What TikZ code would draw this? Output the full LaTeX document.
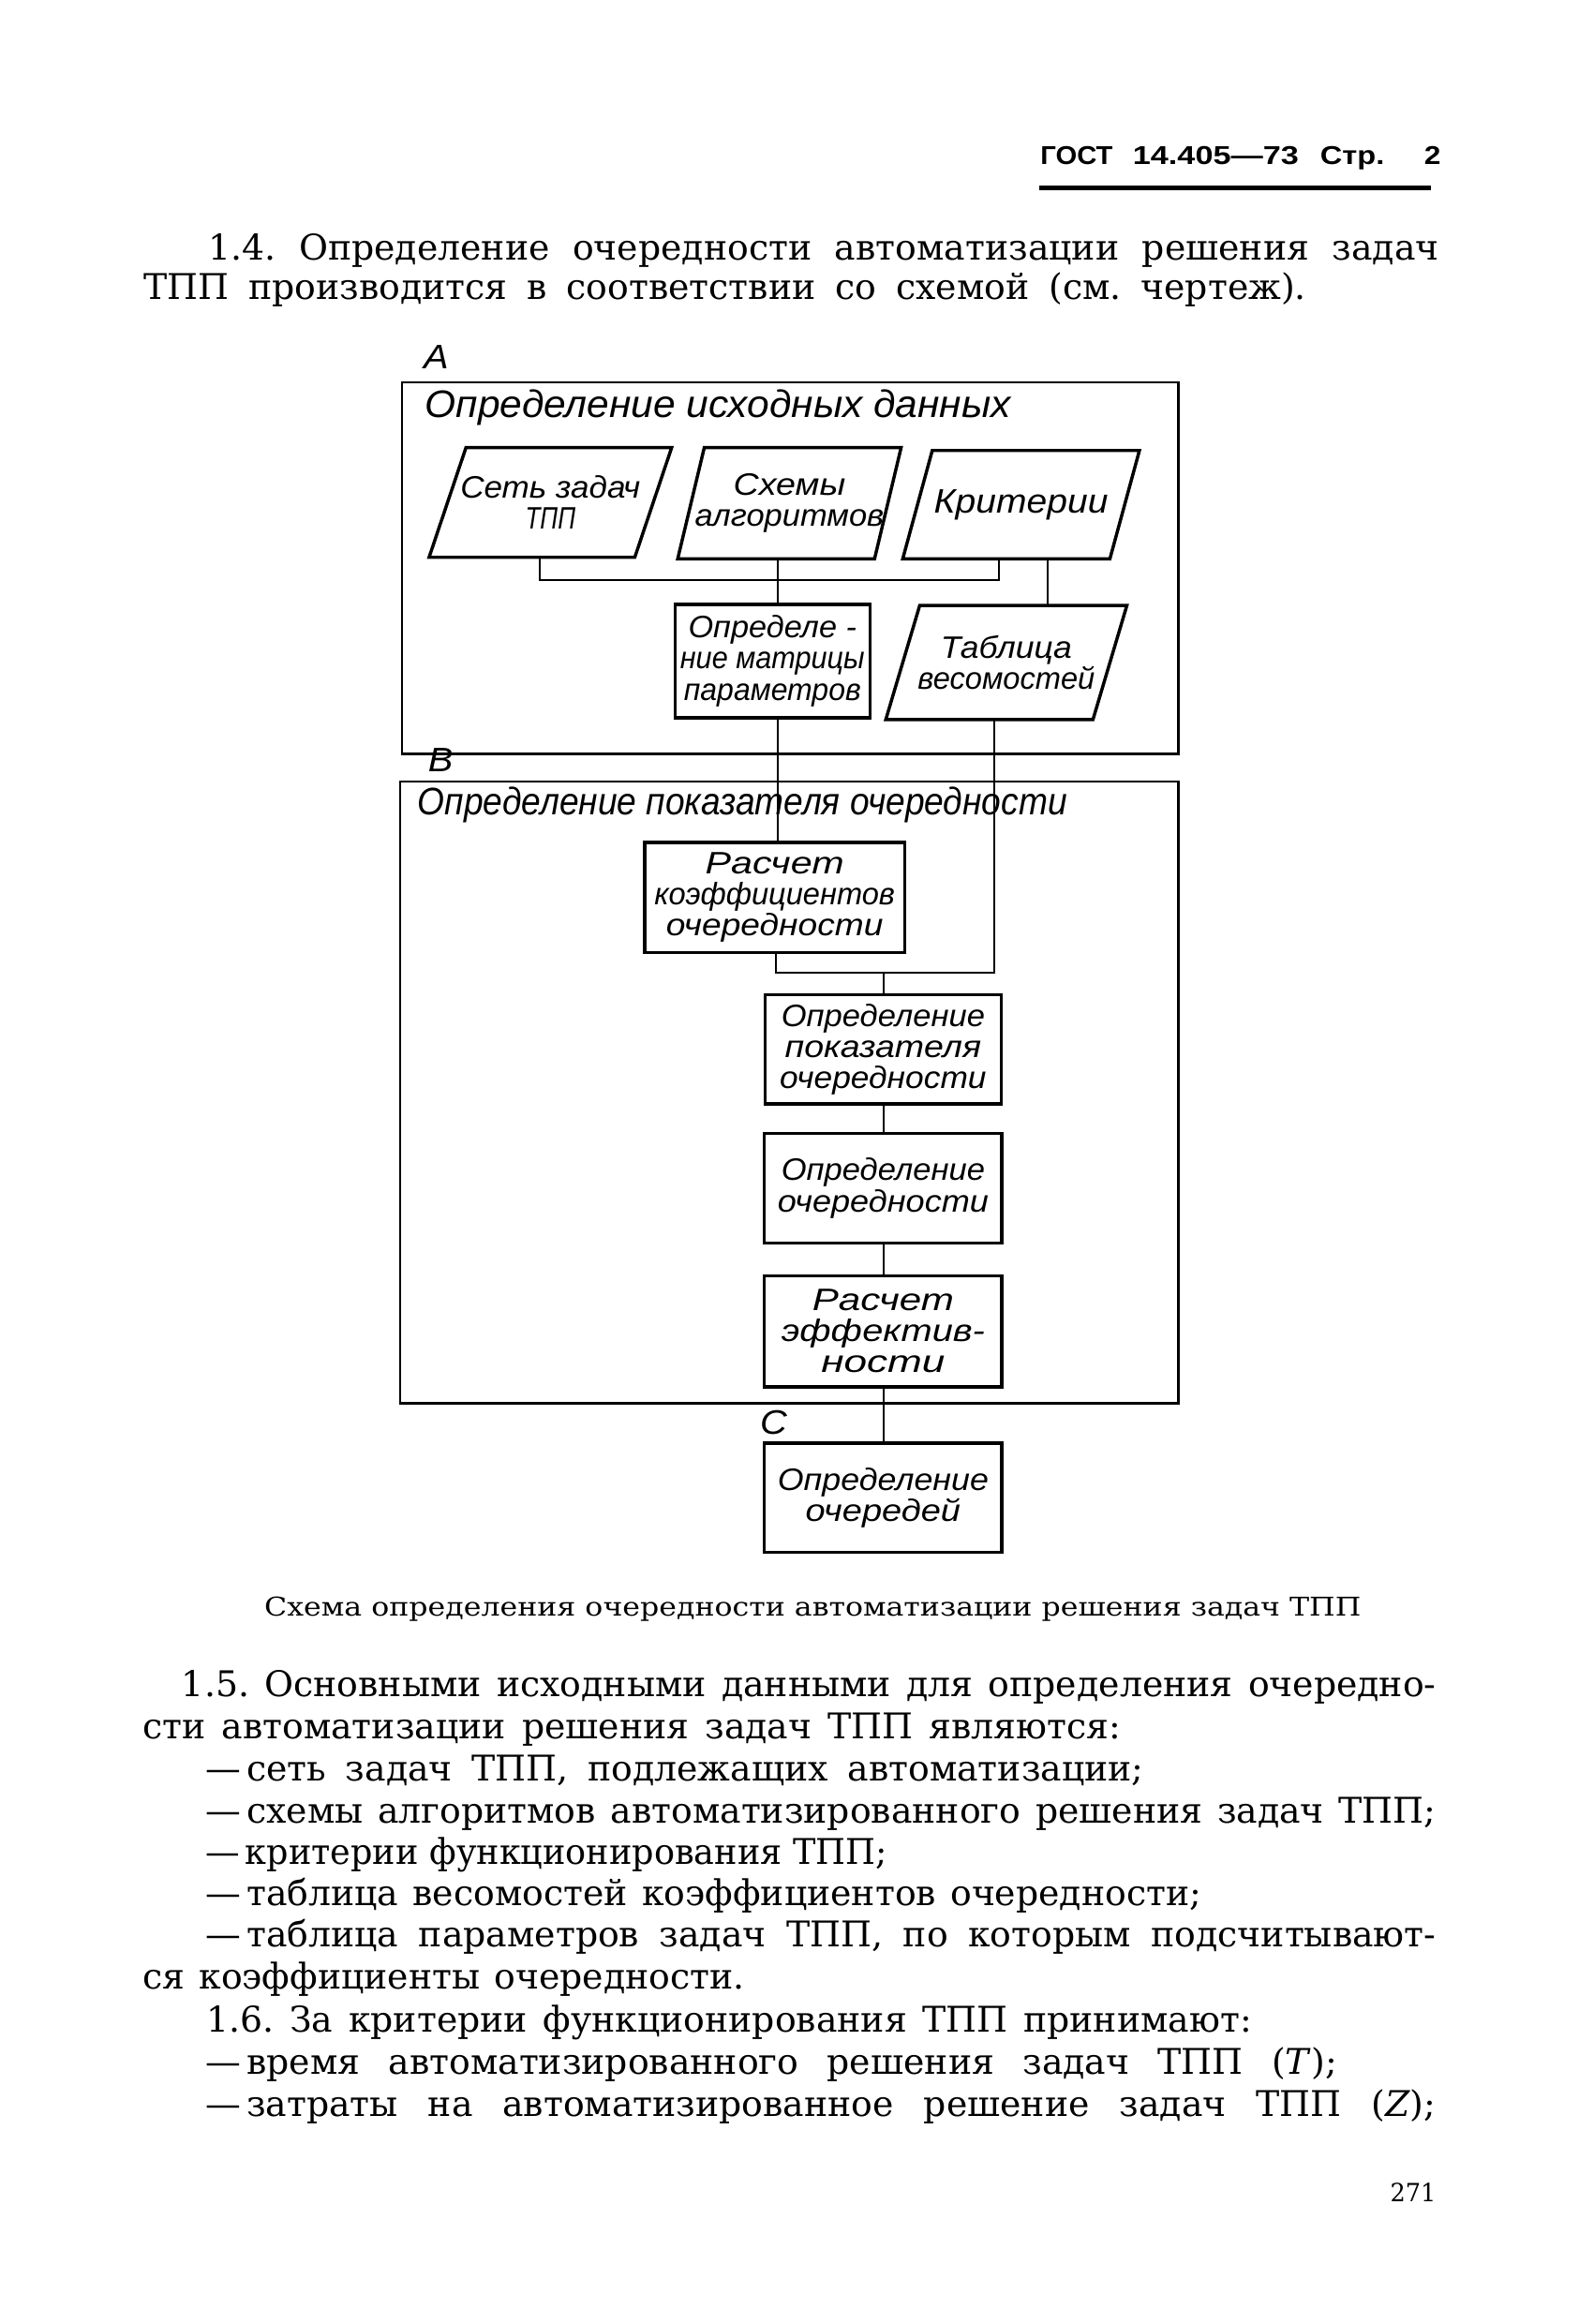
\documentclass[tikz,border=0pt]{standalone}
\usepackage{fontspec}
\usepackage{graphicx}
\setmainfont{DejaVu Serif}
\newfontfamily\gostf[FakeStretch=1.1]{Liberation Sans}
\newfontfamily\hdrf[FakeStretch=1.15]{Liberation Sans}
\usetikzlibrary{calc}
\newlength\jlw
\newcommand\jline[2]{\settowidth\jlw{#2}\ifdim\jlw<#1\relax\makebox[#1][s]{#2}\else\resizebox{#1}{\height}{#2}\fi}
\newcommand\fitx[2]{\resizebox{#1}{\height}{#2}}
\newcommand\boxfont{\gostf\itshape\fontsize{21}{21}\selectfont}
\newcommand\mypgram[2]{\draw[boxline] ($(#1.north west)+(#2,0)$) -- ($(#1.north east)+(#2,0)$) -- ($(#1.south east)-(#2,0)$) -- ($(#1.south west)-(#2,0)$) -- cycle;}
\tikzset{
  boxline/.style={line width=2.2pt, line join=miter},
  rbox/.style={draw, line width=2.2pt, inner sep=0pt, align=center, font=\boxfont},
  pbox/.style={inner sep=0pt, align=center, font=\boxfont},
  bigbox/.style={draw, line width=1.5pt, inner sep=0pt},
  conn/.style={line width=1.2pt},
  ttl/.style={anchor=base west, inner sep=0pt, font=\gostf\itshape\fontsize{26}{26}\selectfont},
  lbl/.style={anchor=base west, inner sep=0pt, font=\gostf\itshape\fontsize{23}{23}\selectfont},
  body/.style={anchor=base west, inner sep=0pt, font=\frenchspacing\fontsize{24}{24}\selectfont},
  hdr/.style={anchor=base west, inner sep=0pt, font=\hdrf\bfseries\fontsize{17.5}{17.5}\selectfont},
  capt/.style={anchor=base west, inner sep=0pt, font=\frenchspacing\fontsize{17.5}{17.5}\selectfont},
}
\begin{document}
\frenchspacing
\begin{tikzpicture}[x=1pt,y=-1pt]
\useasboundingbox (0,0) rectangle (1080,1575);
\fill[white] (0,0) rectangle (1080,1575);

% header
\node[hdr] (hdr) at (705,111.5) {\fitx{49pt}{ГОСТ}\hspace{13.5pt}\fitx{112.5pt}{14.405—73}\hspace{14.5pt}\fitx{43.5pt}{Стр.}\hspace{27pt}2};
\coordinate (u1) at (704,127.5);
\coordinate (u2) at (970,127.5);
\draw[line width=3pt] (u1) -- (u2);

% paragraph 1.4
\node[body] (l1) at (141,176) {\jline{834pt}{1.4. Определение очередности автоматизации решения задач}};
\node[body] (l2) at (97,203) {\jline{788pt}{ТПП производится в соответствии со схемой (см. чертеж).}};

% ---------- block A
\node[lbl] (la) at (287,250) {А};
\node[bigbox, minimum width=526pt, minimum height=252pt] (boxA) at (535.5,385) {};
\node[ttl] (tA) at (288,283) {\fitx{397pt}{Определение исходных данных}};

\node[pbox, minimum width=139pt, minimum height=74pt] (p1) at (373,340.5) {\fitx{122pt}{Сеть задач}\\\fitx{34pt}{ТПП}};
\mypgram{p1}{12.5}
\node[pbox, minimum width=133pt, minimum height=75pt] (p2) at (535,341) {\fitx{76pt}{Схемы}\\\fitx{128pt}{алгоритмов}};
\mypgram{p2}{9}
\node[pbox, minimum width=140pt, minimum height=73pt, font=\gostf\itshape\fontsize{23}{23}\selectfont] (p3) at (692,342) {\fitx{118pt}{Критерии}};
\mypgram{p3}{10}

\node[rbox, minimum width=132pt, minimum height=77pt] (m) at (523.5,448) {\fitx{114pt}{Определе -}\\\fitx{125pt}{ние матрицы}\\\fitx{120pt}{параметров}};
\node[pbox, minimum width=140pt, minimum height=77pt] (t) at (682,449) {\fitx{89pt}{Таблица}\\\fitx{120pt}{весомостей}};
\mypgram{t}{11.5}

% ---------- block B
\node[lbl] (lb) at (290,523) {В};
\node[bigbox, minimum width=527.5pt, minimum height=421.5pt] (boxB) at (534.75,740.25) {};
\node[ttl] (tB) at (283,552) {\fitx{440pt}{Определение показателя очередности}};

\node[rbox, minimum width=176pt, minimum height=74.5pt] (r) at (525,608.25) {\fitx{94pt}{Расчет}\\\fitx{163pt}{коэффициентов}\\\fitx{147pt}{очередности}};
\node[rbox, minimum width=160pt, minimum height=74pt] (pp) at (598.5,711) {\fitx{138pt}{Определение}\\\fitx{133pt}{показателя}\\\fitx{140pt}{очередности}};
\node[rbox, minimum width=161pt, minimum height=74.5pt] (o) at (598.5,805.25) {\fitx{138pt}{Определение}\\\fitx{143pt}{очередности}};
\node[rbox, minimum width=161pt, minimum height=75.5pt] (e) at (598.5,902.25) {\fitx{96pt}{Расчет}\\\fitx{138pt}{эффектив-}\\\fitx{84pt}{ности}};

% ---------- block C
\node[lbl] (lc) at (515,972) {С};
\node[rbox, minimum width=161pt, minimum height=74pt] (f) at (598.5,1015) {\fitx{143pt}{Определение}\\\fitx{105pt}{очередей}};

% ---------- connectors
\coordinate (ja) at (366,393);
\coordinate (jb) at (677,393);
\draw[conn] (p1.south -| ja) -- (ja) -- (jb) -- (p3.south -| jb);
\coordinate (xm) at (527,393);
\draw[conn] (p2.south -| xm) -- (m.north -| xm);
\coordinate (xt) at (710,393);
\draw[conn] (p3.south -| xt) -- (t.north -| xt);
\draw[conn] (m.south -| xm) -- (r.north -| xm);
\coordinate (jr) at (526,659);
\coordinate (jt) at (674,659);
\draw[conn] (r.south -| jr) -- (jr) -- (jt) -- (t.south -| jt);
\coordinate (jp) at (599,659);
\draw[conn] (jp) -- (pp.north -| jp);
\draw[conn] (pp.south -| jp) -- (o.north -| jp);
\draw[conn] (o.south -| jp) -- (e.north -| jp);
\draw[conn] (e.south -| jp) -- (f.north -| jp);

% caption
\node[capt] (cap) at (179,1095) {\fitx{743pt}{Схема определения очередности автоматизации решения задач ТПП}};

% paragraphs 1.5, 1.6
\node[body] (b1) at (123,1150) {\jline{850pt}{1.5. Основными исходными данными для определения очередно-}};
\node[body] (b2) at (96.5,1178.5) {\jline{663pt}{сти автоматизации решения задач ТПП являются:}};
\node[body] (b3) at (139,1207) {\jline{636pt}{—\,сеть задач ТПП, подлежащих автоматизации;}};
\node[body] (b4) at (139,1235.5) {\jline{834pt}{—\,схемы алгоритмов автоматизированного решения задач ТПП;}};
\node[body] (b5) at (139,1263.5) {\jline{462pt}{—\,критерии функционирования ТПП;}};
\node[body] (b6) at (139,1291.5) {\jline{675pt}{—\,таблица весомостей коэффициентов очередности;}};
\node[body] (b7) at (139,1319.5) {\jline{834pt}{—\,таблица параметров задач ТПП, по которым подсчитывают-}};
\node[body] (b8) at (96.5,1348) {\jline{408pt}{ся коэффициенты очередности.}};
\node[body] (b9) at (140,1377) {\jline{708pt}{1.6. За критерии функционирования ТПП принимают:}};
\node[body] (b10) at (139,1406) {\jline{767pt}{—\,время автоматизированного решения задач ТПП (\textit{T});}};
\node[body] (b11) at (139,1434.5) {\jline{834pt}{—\,затраты на автоматизированное решение задач ТПП (\textit{Z});}};
\node[body, font=\fontsize{17}{17}\selectfont] (pg) at (942,1492) {\jline{31pt}{271}};
\end{tikzpicture}
\end{document}
